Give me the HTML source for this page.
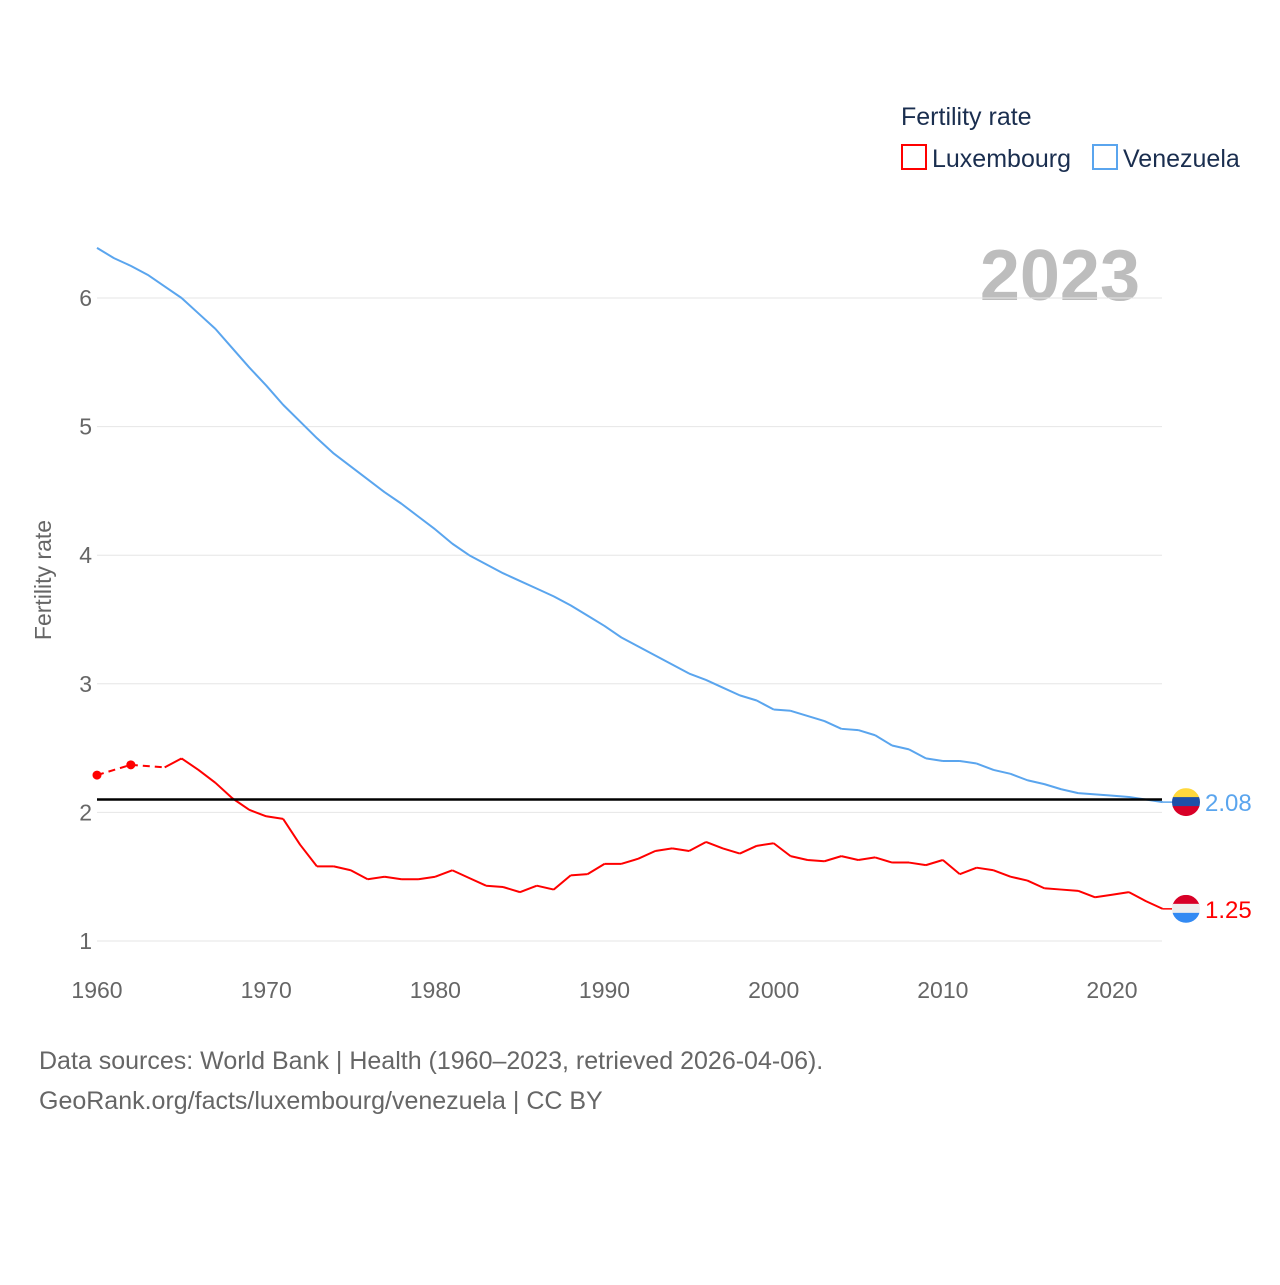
<!DOCTYPE html>
<html><head><meta charset="utf-8"><style>
body{margin:0;background:#fff;width:1280px;height:1280px;overflow:hidden;font-family:"Liberation Sans",sans-serif}
</style></head><body>
<svg id="chart" width="1280" height="1280" xmlns="http://www.w3.org/2000/svg" font-family="Liberation Sans, sans-serif">
<text x="901" y="125" font-size="25" fill="#1a2e4f">Fertility rate</text>
<g><rect x="902" y="145" width="24" height="24" fill="none" stroke="#ff0000" stroke-width="2"/><text x="932" y="167" font-size="25" fill="#1a2e4f">Luxembourg</text></g>
<g><rect x="1093" y="145" width="24" height="24" fill="none" stroke="#5aa5ee" stroke-width="2"/><text x="1123" y="167" font-size="25" fill="#1a2e4f">Venezuela</text></g>
<text x="1140" y="300" font-size="72" font-weight="bold" fill="#bdbdbd" text-anchor="end">2023</text>
<text transform="translate(51,580) rotate(-90)" font-size="23" fill="#666" text-anchor="middle">Fertility rate</text>
<g id="grid"></g><g id="series"></g>
<text x="39" y="1069" font-size="25" fill="#666">Data sources: World Bank | Health (1960–2023, retrieved 2026-04-06).</text>
<text x="39" y="1109" font-size="25" fill="#666">GeoRank.org/facts/luxembourg/venezuela | CC BY</text>
</svg>
<script>
const years=[];for(let y=1960;y<=2023;y++)years.push(y);
const yTicks=[1,2,3,4,5,6];
const xTicks=[1960,1970,1980,1990,2000,2010,2020];
const replacementRate=[2.1];
const luxembourg=[2.29,null,2.37,null,2.35,2.42,2.33,2.23,2.11,2.02,1.97,1.95,1.75,1.58,1.58,1.55,1.48,1.50,1.48,1.48,1.50,1.55,1.49,1.43,1.42,1.38,1.43,1.40,1.51,1.52,1.60,1.60,1.64,1.70,1.72,1.70,1.77,1.72,1.68,1.74,1.76,1.66,1.63,1.62,1.66,1.63,1.65,1.61,1.61,1.59,1.63,1.52,1.57,1.55,1.50,1.47,1.41,1.40,1.39,1.34,1.36,1.38,1.31,1.25];
const venezuela=[6.39,6.31,6.25,6.18,6.09,6.00,5.88,5.76,5.61,5.46,5.32,5.17,5.04,4.91,4.79,4.69,4.59,4.49,4.40,4.30,4.20,4.09,4.00,3.93,3.86,3.80,3.74,3.68,3.61,3.53,3.45,3.36,3.29,3.22,3.15,3.08,3.03,2.97,2.91,2.87,2.80,2.79,2.75,2.71,2.65,2.64,2.60,2.52,2.49,2.42,2.40,2.40,2.38,2.33,2.30,2.25,2.22,2.18,2.15,2.14,2.13,2.12,2.10,2.08];
const X=y=>97+(y-1960)*(1015/60);
const Y=v=>941-(v-1)*128.6;
const NS="http://www.w3.org/2000/svg";
function mk(t,a,p){const e=document.createElementNS(NS,t);for(const k in a)e.setAttribute(k,a[k]);p.appendChild(e);return e;}
const grid=document.getElementById('grid'),ser=document.getElementById('series');
yTicks.forEach(v=>{
 const l=mk('line',{x1:97,x2:1162,y1:Y(v),y2:Y(v),stroke:'#e6e6e6','stroke-width':1},grid);
 
 
 const t=mk('text',{x:92,y:Y(v)+8,'font-size':23,fill:'#666','text-anchor':'end'},grid);t.textContent=v;
 
 
});
xTicks.forEach(yr=>{
 const t=mk('text',{x:X(yr),y:998,'font-size':23,fill:'#666','text-anchor':'middle'},grid);t.textContent=yr;
 
 
});
function draw(data,color,name){
 let solid='',dash='';const pts=[];
 data.forEach((v,i)=>{if(v!=null)pts.push([X(years[i]),Y(v),i]);});
 for(let k=1;k<pts.length;k++){const a=pts[k-1],b=pts[k];const seg=`M${a[0]},${a[1]}L${b[0]},${b[1]}`;
  if(b[2]-a[2]>1)dash+=seg;else solid+=seg;}
 const p=mk('path',{d:solid,fill:'none',stroke:color,'stroke-width':2},ser);
 
 
 if(dash){const d=mk('path',{d:dash,fill:'none',stroke:color,'stroke-width':2,'stroke-dasharray':'7,5'},ser);
  
  }
 data.forEach((v,i)=>{if(v==null)return;
  const prevOk=i>0&&data[i-1]!=null,nextOk=i<data.length-1&&data[i+1]!=null;
  if(!prevOk&&!nextOk){const c=mk('circle',{cx:X(years[i]),cy:Y(v),r:4.5,fill:color},ser);
   
   }});
}
draw(venezuela,'#5aa5ee','venezuela');
draw(luxembourg,'#ff0000','luxembourg');
const rl=mk('line',{x1:97,x2:1162,y1:Y(replacementRate[0]),y2:Y(replacementRate[0]),stroke:'#000','stroke-width':2.5},ser);


const vLast=venezuela[venezuela.length-1],lLast=luxembourg[luxembourg.length-1];
mk('line',{x1:X(2023),x2:1172,y1:Y(vLast),y2:Y(vLast),stroke:'#5aa5ee','stroke-width':1.5},ser);
mk('line',{x1:X(2023),x2:1172,y1:Y(lLast),y2:Y(lLast),stroke:'#ff0000','stroke-width':1.5},ser);
const defs=mk('defs',{},ser);
const c1=mk('clipPath',{id:'cv'},defs);mk('circle',{cx:1186,cy:Y(vLast),r:14},c1);
const c2=mk('clipPath',{id:'cl'},defs);mk('circle',{cx:1186,cy:Y(lLast),r:14},c2);
const fv=mk('g',{'clip-path':'url(#cv)'},ser);


let cy=Y(vLast);
mk('rect',{x:1172,y:cy-14,width:28,height:10,fill:'#ffd83d'},fv);mk('rect',{x:1172,y:cy-5,width:28,height:10,fill:'#1e50a8'},fv);mk('rect',{x:1172,y:cy+4,width:28,height:10,fill:'#d80027'},fv);
const lv=mk('text',{x:1205,y:cy+9,'font-size':24,fill:'#5aa5ee'},ser);lv.textContent=vLast.toFixed(2);


const fl=mk('g',{'clip-path':'url(#cl)'},ser);


cy=Y(lLast);
mk('rect',{x:1172,y:cy-14,width:28,height:10,fill:'#d80027'},fl);mk('rect',{x:1172,y:cy-5,width:28,height:10,fill:'#eee'},fl);mk('rect',{x:1172,y:cy+4,width:28,height:10,fill:'#338af3'},fl);
const ll=mk('text',{x:1205,y:cy+9,'font-size':24,fill:'#ff0000'},ser);ll.textContent=lLast.toFixed(2);


</script>
</body></html>
